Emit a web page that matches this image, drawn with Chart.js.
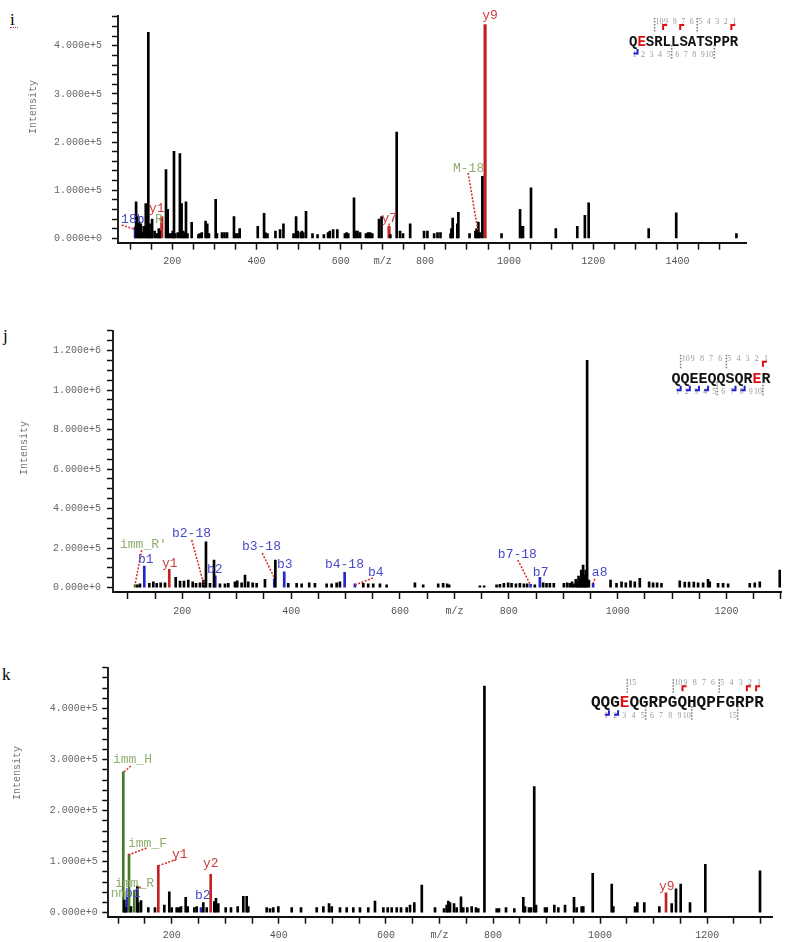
<!DOCTYPE html>
<html>
<head>
<meta charset="utf-8">
<script src="https://cdn.jsdelivr.net/npm/chart.js@4.4.1/dist/chart.umd.min.js"></script>
<style>
  body { margin: 0; background: #fff; width: 787px; height: 942px; position: relative; overflow: hidden; }
  canvas { position: absolute; left: 0; }
  .tag { position: absolute; font: 17px/1 "Liberation Serif", serif; color: #000; }
</style>
</head>
<body>
<div class="tag" style="left:10px;top:11px">i</div>
<div style="position:absolute;left:10px;top:27px;width:8px;border-top:1px dotted #c33"></div>
<div class="tag" style="left:3px;top:327px">j</div>
<div class="tag" style="left:2px;top:666px">k</div>
<canvas id="ci" width="787" height="290" style="top:0"></canvas>
<canvas id="cj" width="787" height="330" style="top:290px"></canvas>
<canvas id="ck" width="787" height="322" style="top:620px"></canvas>
<script>
// MS/MS spectra for three peptides. Peaks are [m/z, intensity] pairs read off
// the reference; coloured peaks are the annotated fragment ions.

// ── panel i : QESRLLSATSPPR ───────────────────────────────────────────────
const I_BLACK = [
  [114, 76000], [119, 45000], [121, 35000], [125, 30000], [128, 12000], [132, 25000],
  [137, 72000], [140, 10000], [143, 428000], [146, 30000], [150, 12000], [152, 40000],
  [158, 15000], [163, 10000], [168, 20000], [170, 15000], [185, 143000], [189, 60000],
  [192, 10000], [197, 10000], [201, 15000], [204, 181000], [207, 10000], [213, 12000],
  [218, 176000], [222, 72000], [226, 15000], [229, 12000], [232.5, 76000], [236, 10000],
  [246, 33000], [262, 8000], [265, 10000], [270, 12000], [279, 36000], [283, 30000],
  [287, 10000], [303, 81000], [306, 10000], [318, 12000], [324, 12000], [330, 12000],
  [346.5, 45000], [350, 10000], [355, 10000], [360, 20000], [403, 25000], [418, 52000],
  [421, 12000], [426, 10000], [445, 15000], [456, 18000], [464, 30000], [488, 10000],
  [494, 45000], [498, 15000], [505, 12000], [508, 15000], [511, 12000], [517.6, 56000],
  [533, 10000], [545, 8000], [560, 8000], [570, 12000], [574, 15000], [582, 18000],
  [592, 18000], [610, 10000], [614, 12000], [618, 10000], [631.6, 84000], [635, 15000],
  [640, 15000], [646, 12000], [660, 10000], [665, 12000], [670, 12000], [675, 10000],
  [691, 40000], [697, 45000], [718, 8000], [733, 221000], [741, 15000], [748, 10000],
  [765, 30000], [798, 15000], [806, 15000], [822, 10000], [830, 12000], [837, 12000],
  [861, 10000], [863, 20000], [866, 42000], [877, 30000], [879.5, 54000], [906, 10000],
  [920, 15000], [923, 20000], [927, 34000], [930, 12000], [936.5, 129000], [982, 10000],
  [1026, 60000], [1030, 25000], [1033, 25000], [1052, 105000], [1111, 20000], [1162, 25000],
  [1180, 48000], [1189, 74000], [1331.6, 20000], [1397, 53000], [1540, 10000],
];
const I_RED = [[175, 45000], [714.8, 25000], [943, 444000]];
const I_BLUE = [[111.6, 24000]];
const I_GREEN = [];
// [text, ion kind, m/z, intensity] of each peak label
const I_LABELS = [
  ['18b', 'b', 78.4, 31700], ['y1', 'y', 144.7, 54500], ['R', 'g', 159, 31700],
  ['y7', 'y', 697, 33700], ['M-18', 'g', 866.8, 137300], ['y9', 'y', 936, 456000],
];
const I_LEADERS = [[79.8, 27500, 111.4, 18600], [714.8, 31000, 714.8, 19000], [902.7, 136000, 926.5, 13000]];
const I_X_TICKS = [];
for (let v = 100; v <= 1500; v += 50) I_X_TICKS.push(v);
const I_Y_TICKS = [];
for (let v = 0; v <= 460000; v += 20000) I_Y_TICKS.push(v);

// ── panel j : QQEEQQSQRER ─────────────────────────────────────────────────
const J_BLACK = [
  [117.4, 14000], [122.3, 19000], [139.4, 22000], [146.7, 30000], [153, 22000], [160.3, 25000],
  [168.2, 25000], [187.9, 52000], [195.8, 34000], [203.1, 34000], [211, 39000], [219.1, 30000],
  [225.2, 22000], [232.5, 25000], [238.6, 39000], [243.5, 232000], [250.9, 22000], [258.3, 140000],
  [269.2, 19000], [278.4, 19000], [284.5, 22000], [296.8, 30000], [301, 35000], [309, 25000],
  [315.2, 64000], [321.2, 30000], [329.3, 25000], [336.6, 22000], [351.9, 42000], [371, 140000],
  [394.7, 22000], [410.1, 22000], [419.3, 19000], [433.2, 25000], [443.7, 22000], [465.2, 19000],
  [474.4, 19000], [483.6, 25000], [489.6, 30000], [532.5, 22000], [541.6, 19000], [550.8, 19000],
  [563.1, 19000], [575.4, 14000], [627.4, 25000], [642.6, 14000], [670.2, 19000], [679.3, 22000],
  [686.7, 19000], [690.4, 14000], [746.7, 10000], [754.6, 10000], [777.4, 14000], [783.5, 17000],
  [790.8, 22000], [798.7, 25000], [805, 22000], [812.9, 19000], [820.2, 22000], [827.6, 19000],
  [833.6, 19000], [847.7, 14000], [863, 25000], [869.2, 22000], [875.3, 22000], [882.6, 22000],
  [901, 22000], [907.1, 25000], [912, 22000], [916, 30000], [919, 20000], [923, 42000],
  [926, 30000], [928, 59000], [931, 45000], [933, 89000], [936.4, 115000], [939, 60000],
  [941, 89000], [943.8, 1150000], [947, 39000], [986.8, 39000],
  [997.8, 22000], [1007, 30000], [1014.9, 25000], [1023.5, 35000], [1031.4, 30000], [1040.6, 47000],
  [1057.7, 30000], [1065, 25000], [1072.4, 25000], [1080.4, 22000], [1114, 35000], [1123.2, 29000],
  [1131.1, 29000], [1139.8, 29000], [1147.7, 25000], [1156.9, 25000], [1166, 42000], [1169.1, 30000],
  [1184.4, 22000], [1193.6, 22000], [1202.8, 19000], [1242.6, 22000], [1251.8, 25000], [1261, 30000],
  [1297.7, 89000],
];
const J_RED = [[176.1, 93000]];
const J_BLUE = [
  [130.2, 110000], [241.7, 22000], [260.6, 60000], [369, 45000], [387.3, 80000],
  [498.3, 78000], [517.2, 20000], [839.9, 17000], [857, 52000], [954.8, 22000],
];
const J_GREEN = [[113.3, 14000]];
const J_LABELS = [
  ["imm_R'", 'g', 85.6, 200000], ['b1', 'b', 118.6, 125000], ['y1', 'y', 162.7, 105000],
  ['b2-18', 'b', 181.1, 256000], ['b2', 'b', 245.4, 74000], ['b3-18', 'b', 309.6, 190000],
  ['b3', 'b', 373.9, 100000], ['b4-18', 'b', 462.1, 100000], ['b4', 'b', 541.1, 59000],
  ['b7-18', 'b', 779.8, 150000], ['b7', 'b', 844.1, 59000], ['a8', 'b', 952.5, 59000],
];
const J_LEADERS = [
  [125.4, 190000, 113.1, 14000], [217.3, 241000, 239.9, 14000], [346.9, 175000, 368.4, 54000],
  [517.2, 14000, 550.2, 49000], [816.5, 140000, 839.8, 14000], [958, 45000, 955, 22000],
];
const J_X_TICKS = [];
for (let v = 100; v <= 1300; v += 50) J_X_TICKS.push(v);
const J_Y_TICKS = [];
for (let v = 0; v <= 1300000; v += 50000) J_Y_TICKS.push(v);

// ── panel k : QQGEQGRPGQHQPFGRPR ──────────────────────────────────────────
const K_BLACK = [
  [111.5, 25000], [114.1, 10000], [124, 12000], [135.8, 52000], [137.6, 20000], [142.7, 24000],
  [156.3, 10000], [168.8, 10000], [186.2, 15000], [195.5, 41000], [200, 10000], [209.3, 10000],
  [213.6, 10000], [217.4, 12000], [226.1, 30000], [229.9, 12000], [242.2, 10000], [246.7, 12000],
  [259, 20000], [265.4, 10000], [279.6, 22000], [282.7, 28000], [287, 18000], [300.8, 10000],
  [310.7, 10000], [323.2, 12000], [333.7, 32000], [340, 32000], [343, 12000], [377.4, 10000],
  [383.6, 8000], [389.7, 10000], [399.1, 12000], [424.1, 10000], [441.5, 10000], [470.8, 10000],
  [483.2, 12000], [493.8, 18000], [498.8, 12000], [514.3, 10000], [526.8, 10000], [539.1, 10000],
  [551.6, 10000], [567.1, 10000], [579.6, 23000], [595.2, 10000], [603.4, 10000], [610.8, 10000],
  [620.2, 10000], [628.2, 10000], [638.8, 10000], [645, 15000], [653, 20000], [667, 54000],
  [691.7, 10000], [708.5, 8000], [713.5, 15000], [716.5, 23000], [719.7, 20000], [727.2, 18000],
  [732.2, 10000], [740.2, 31000], [744.5, 10000], [752, 10000], [760.2, 12000], [768.2, 10000],
  [772.5, 8000], [784, 444000], [806.9, 8000], [811.2, 8000], [824.3, 10000], [839.8, 8000],
  [856.6, 30000], [859.8, 12000], [867.2, 10000], [871, 10000], [877, 247000], [880.3, 15000],
  [897.1, 10000], [900.3, 10000], [914.5, 15000], [922, 10000], [934.5, 15000], [951.3, 30000],
  [956.3, 10000], [965.6, 12000], [968.6, 12000], [986.2, 77000], [1021.7, 56000], [1024.7, 12000],
  [1065.2, 12000], [1069.5, 20000], [1082.5, 20000], [1110.6, 12000], [1133.7, 18000], [1141.7, 47000],
  [1150.5, 56000], [1167.9, 20000], [1196.5, 95000], [1298.6, 82000],
];
const K_RED = [[175, 93000], [272.8, 75000], [1123.1, 39000]];
const K_BLUE = [[116.5, 30000], [254.7, 10000]];
const K_GREEN = [[109.6, 276000], [120.3, 115000], [130.2, 44000]];
const K_LABELS = [
  ['imm_H', 'g', 90.4, 293000], ['imm_F', 'g', 118.4, 129000], ['y1', 'y', 200.6, 107000],
  ['y2', 'y', 258.4, 89000], ['imm_R', 'g', 94.1, 51000], ['nm', 'g', 86, 31000],
  ['b1', 'b', 112.9, 31000], ['b2', 'b', 243.5, 27000], ['y9', 'y', 1110, 44000],
];
const K_LEADERS = [
  [110.9, 276000, 125.3, 289000], [119.0, 113000, 153.3, 127000],
  [175, 92000, 209.3, 104500], [142, 51000, 135, 44000],
];
const K_X_TICKS = [];
for (let v = 100; v <= 1300; v += 50) K_X_TICKS.push(v);
const K_Y_TICKS = [];
for (let v = 0; v <= 480000; v += 20000) K_Y_TICKS.push(v);

const PEAK_COLORS = { black: '#000', red: '#c42222', blue: '#2525c8', green: '#46782a' };
const LABEL_COLORS = { y: '#d13b3b', b: '#4a4ac9', g: '#90ae70' };
const MONO = '"Liberation Mono", monospace';

function peaks(list, color, thick) {
  return {
    data: list.map(([x, y]) => ({ x, y })),
    backgroundColor: color,
    barThickness: thick,
    grouped: false,
  };
}

function drawSeq(ctx, s) {
  const n = s.seq.length;
  ctx.font = `bold ${s.fs}px ${MONO}`;
  const cw = ctx.measureText('Q').width;
  const mw = s.mw || cw;
  const mx = s.mx || s.x;
  ctx.textAlign = 'left';
  [...s.seq].forEach((ch, i) => {
    ctx.fillStyle = i === s.hi ? '#e01010' : '#111';
    ctx.fillText(ch, s.x + i * cw, s.y);
  });
  const site = (k) => mx + k * mw;
  const dash = (x, y1, y2) => {
    ctx.save();
    ctx.strokeStyle = '#777'; ctx.lineWidth = 1.5; ctx.setLineDash([1.5, 1.5]);
    ctx.beginPath(); ctx.moveTo(x, y1); ctx.lineTo(x, y2); ctx.stroke();
    ctx.restore();
  };
  ctx.font = '8px "Liberation Serif", serif';
  ctx.fillStyle = '#999';
  for (let k = 1; k < n; k++) {
    const yi = n - k, bi = k, x = site(k);
    if (yi <= 10 || yi === 15) {
      ctx.textAlign = 'left';
      ctx.fillText(String(yi), x + 1, s.y - 22);
      if (yi % 5 === 0) dash(x, s.y - 28, s.y - 13);
    }
    if (bi <= 10 || bi === 15) {
      ctx.textAlign = 'right';
      ctx.fillText(String(bi), x - 1, s.y + 11);
      if (bi % 5 === 0) dash(x, s.y - 1, s.y + 13);
    }
  }
  ctx.lineWidth = 2;
  ctx.strokeStyle = '#e01010';
  s.yObs.forEach((yi) => {
    const x = site(n - yi);
    ctx.beginPath(); ctx.moveTo(x, s.y - 16); ctx.lineTo(x, s.y - 21); ctx.lineTo(x + 4, s.y - 21); ctx.stroke();
  });
  ctx.strokeStyle = '#2020d0';
  s.bObs.forEach((bi) => {
    const x = site(bi);
    ctx.beginPath(); ctx.moveTo(x, s.y + 3); ctx.lineTo(x, s.y + 7.5); ctx.lineTo(x - 4, s.y + 7.5); ctx.stroke();
  });
}

function specPlugin(p) {
  return {
    id: 'spec_' + p.id,
    afterDatasetsDraw(chart) {
      const { ctx } = chart;
      const xs = chart.scales.x, ys = chart.scales.y;
      ctx.save();
      ctx.strokeStyle = '#d42a2a';
      ctx.lineWidth = 1.5;
      ctx.setLineDash([2, 1.5]);
      p.leaders.forEach(([m1, v1, m2, v2]) => {
        ctx.beginPath();
        ctx.moveTo(xs.getPixelForValue(m1), ys.getPixelForValue(v1));
        ctx.lineTo(xs.getPixelForValue(m2), ys.getPixelForValue(v2));
        ctx.stroke();
      });
      ctx.setLineDash([]);
      ctx.font = '13px ' + MONO;
      ctx.textAlign = 'left';
      ctx.textBaseline = 'alphabetic';
      p.labels.forEach(([t, kind, m, v]) => {
        ctx.fillStyle = LABEL_COLORS[kind];
        ctx.fillText(t, xs.getPixelForValue(m), ys.getPixelForValue(v));
      });
      // y axis title, not centred on the axis in the original
      ctx.save();
      ctx.translate(p.title[0], p.title[1]);
      ctx.rotate(-Math.PI / 2);
      ctx.textAlign = 'center';
      ctx.font = '10px ' + MONO;
      ctx.fillStyle = '#777';
      ctx.fillText('Intensity', 0, 0);
      ctx.restore();
      drawSeq(ctx, p.seq);
      ctx.restore();
    },
  };
}

function makePanel(p) {
  const tickFont = { family: MONO, size: 10 };
  new Chart(document.getElementById(p.id), {
    type: 'bar',
    data: {
      datasets: [
        peaks(p.black, PEAK_COLORS.black, 2),
        peaks(p.green, PEAK_COLORS.green, 2),
        peaks(p.blue, PEAK_COLORS.blue, 2),
        peaks(p.red, PEAK_COLORS.red, p.redThick || 2),
      ],
    },
    options: {
      responsive: false,
      maintainAspectRatio: false,
      animation: false,
      devicePixelRatio: 1,
      events: [],
      layout: { padding: { left: 0, top: p.padTop, right: p.padRight, bottom: 0 } },
      plugins: { legend: { display: false }, tooltip: { enabled: false } },
      scales: {
        x: {
          type: 'linear',
          min: p.xMin, max: p.xMax,
          offset: false,
          grid: { drawOnChartArea: false, offset: false, tickLength: 7, tickColor: '#111', tickWidth: 1.5 },
          border: { color: '#111', width: 2 },
          ticks: {
            autoSkip: false, maxRotation: 0, padding: 6, font: tickFont, color: '#555',
            callback: (v) => (v % 200 === 0 ? String(v) : v === 700 ? 'm/z' : ''),
          },
          afterBuildTicks: (s) => { s.ticks = p.xTicks.map((value) => ({ value })); },
          afterFit: (s) => { s.height = p.xHeight; },
        },
        y: {
          type: 'linear',
          min: p.yMin, max: p.yMax,
          grid: { drawOnChartArea: false, tickLength: 6, tickColor: '#111', tickWidth: 1.5 },
          border: { color: '#222', width: 2 },
          ticks: {
            autoSkip: false, padding: p.yPad, font: tickFont, color: '#666',
            callback: (v) => (v % p.yMajor === 0 ? v.toExponential(3) : ''),
          },
          afterBuildTicks: (s) => { s.ticks = p.yTicks.map((value) => ({ value })); },
          afterFit: (s) => { s.width = p.left; },
        },
      },
    },
    plugins: [specPlugin(p)],
  });
}

makePanel({
  id: 'ci', black: I_BLACK, red: I_RED, blue: I_BLUE, green: I_GREEN, redThick: 2.5,
  labels: I_LABELS, leaders: I_LEADERS, xTicks: I_X_TICKS, yTicks: I_Y_TICKS,
  xMin: 71, xMax: 1564.4, yMin: -9100, yMax: 462000, yMajor: 100000,
  left: 118, padTop: 15, padRight: 40.3, xHeight: 47.3, yPad: 10,
  title: [36, 107],
  seq: { seq: 'QESRLLSATSPPR', hi: 1, yObs: [1, 7, 9], bObs: [1], fs: 14, x: 629, y: 46, mw: 8.53 },
});

makePanel({
  id: 'cj', black: J_BLACK, red: J_RED, blue: J_BLUE, green: J_GREEN,
  labels: J_LABELS, leaders: J_LEADERS, xTicks: J_X_TICKS, yTicks: J_Y_TICKS,
  xMin: 72.7, xMax: 1300.8, yMin: -21700, yMax: 1300000, yMajor: 200000,
  left: 113, padTop: 40.7, padRight: 5.3, xHeight: 28, yPad: 6,
  title: [27, 158],
  seq: { seq: 'QQEEQQSQRER', hi: 9, yObs: [1], bObs: [1, 2, 3, 4, 7, 8], fs: 15, x: 671.5, y: 92.7, mw: 9.14 },
});

makePanel({
  id: 'ck', black: K_BLACK, red: K_RED, blue: K_BLUE, green: K_GREEN,
  labels: K_LABELS, leaders: K_LEADERS, xTicks: K_X_TICKS, yTicks: K_Y_TICKS,
  xMin: 81.6, xMax: 1322.3, yMin: -7800, yMax: 480000, yMajor: 100000,
  left: 108.3, padTop: 47.7, padRight: 14.3, xHeight: 25.3, yPad: 4.5,
  title: [20, 153],
  seq: { seq: 'QQGEQGRPGQHQPFGRPR', hi: 3, yObs: [1, 2, 9], bObs: [1, 2], fs: 16, x: 591, y: 87.3, mx: 599.7, mw: 9.2 },
});
</script>
</body>
</html>
